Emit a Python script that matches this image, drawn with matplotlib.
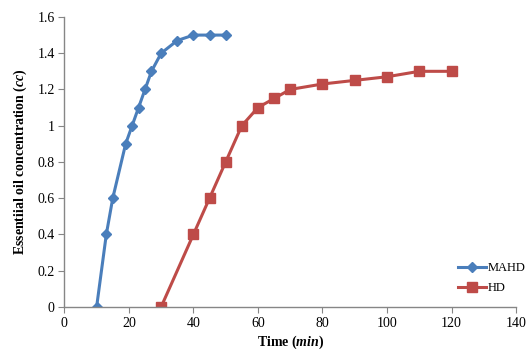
import matplotlib
matplotlib.use("Agg")
import matplotlib.pyplot as plt

mahd_t = [10, 13, 15, 19, 21, 23, 25, 27, 30, 35, 40, 45, 50]
mahd_c = [0, 0.4, 0.6, 0.9, 1.0, 1.1, 1.2, 1.3, 1.4, 1.47, 1.5, 1.5, 1.5]
hd_t = [30, 40, 45, 50, 55, 60, 65, 70, 80, 90, 100, 110, 120]
hd_c = [0, 0.4, 0.6, 0.8, 1.0, 1.1, 1.15, 1.2, 1.23, 1.25, 1.27, 1.3, 1.3]
xticks = [0, 20, 40, 60, 80, 100, 120, 140]
yticks = [0, 0.2, 0.4, 0.6, 0.8, 1, 1.2, 1.4, 1.6]
ytick_labels = ["0", "0.2", "0.4", "0.6", "0.8", "1", "1.2", "1.4", "1.6"]

plt.rcParams['font.family'] = ['Liberation Serif', 'DejaVu Serif']
plt.rcParams['mathtext.fontset'] = 'custom'
plt.rcParams['mathtext.it'] = 'Liberation Serif:italic:bold'
plt.rcParams['mathtext.rm'] = 'Liberation Serif:bold'

fig = plt.figure(figsize=(5.32, 3.61), dpi=100)
ax = fig.add_axes([0.121, 0.150, 0.849, 0.803])

blue = '#4a7ebb'
red = '#be4b48'
ax.plot(mahd_t, mahd_c, color=blue, lw=2.2, marker='D', ms=5.5, label='MAHD')
ax.plot(hd_t, hd_c, color=red, lw=2.2, marker='s', ms=6.5, label='HD')

ax.set_xlim(0, 140)
ax.set_ylim(0, 1.6)
ax.set_xticks(xticks)
ax.set_yticks(yticks)
ax.set_yticklabels(ytick_labels)
ax.tick_params(labelsize=10, direction='out', length=4, color='#868686', pad=3)
for s in ['top', 'right']:
    ax.spines[s].set_visible(False)
for s in ['left', 'bottom']:
    ax.spines[s].set_color('#868686')
    ax.spines[s].set_linewidth(1.0)

ax.set_xlabel('Time ($min$)', fontsize=10, fontweight='bold', labelpad=3)
ax.set_ylabel('Essentiial oil concentration ($cc$)', fontsize=10, fontweight='bold', labelpad=6)

leg = ax.legend(loc='lower right', bbox_to_anchor=(1.045, 0.005), frameon=False,
                fontsize=9, handlelength=2.2, handletextpad=0.1, labelspacing=0.65)

fig.savefig('out.png', dpi=100)
